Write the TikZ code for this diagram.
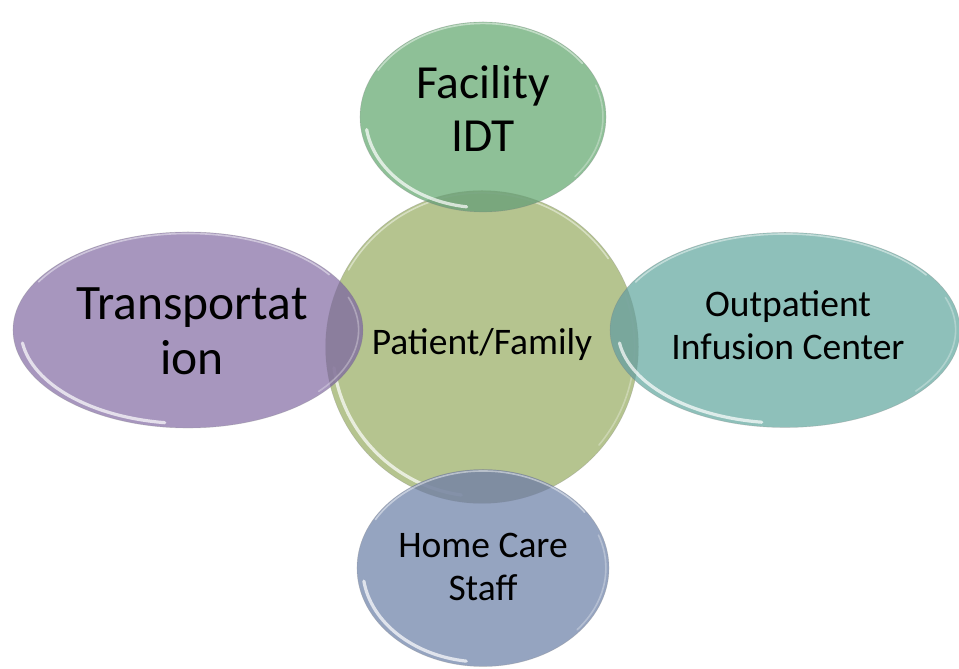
\documentclass[tikz,border=0pt]{standalone}
\usepackage{fontspec}
\setmainfont{Carlito}
\usetikzlibrary{shapes.geometric,calc}

\definecolor{hubgreen}{RGB}{181,196,143}
\definecolor{facgreen}{RGB}{130,185,140}
\definecolor{transpurple}{RGB}{157,139,183}
\definecolor{outteal}{RGB}{130,185,178}
\definecolor{homeblue}{RGB}{138,154,185}

\tikzset{
  bubble/.style={ellipse, inner sep=0pt, fill opacity=0.9,
    draw=black!45, draw opacity=0.35, line width=0.6pt},
  hub/.style={circle, inner sep=0pt,
    draw=black!45, draw opacity=0.35, line width=0.6pt},
  label/.style={align=center, text=black, inner sep=0pt},
  bigtext/.style={font=\fontsize{47.5}{53}\selectfont},
  hugetext/.style={font=\fontsize{49.5}{55}\selectfont},
  smalltext/.style={font=\fontsize{37.5}{43}\selectfont},
  glosslow/.style={white, opacity=0.7, line width=3.2pt, line cap=round},
  glosstop/.style={white, opacity=0.45, line width=1.6pt, line cap=round},
}

% glossy rim highlights for a bubble: node, x radius, y radius
\newcommand\shine[3]{%
  \draw[glosslow] ($(#1.center)+(188:{0.955*#2} and {0.955*#3})$)
    arc[start angle=188, end angle=262, x radius={0.955*#2}, y radius={0.955*#3}];
  \draw[glosstop] ($(#1.center)+(35:{0.985*#2} and {0.985*#3})$)
    arc[start angle=35, end angle=150, x radius={0.985*#2}, y radius={0.985*#3}];
  \draw[glosstop, opacity=0.3] ($(#1.center)+(-40:{0.975*#2} and {0.975*#3})$)
    arc[start angle=-40, end angle=20, x radius={0.975*#2}, y radius={0.975*#3}];
}

\begin{document}
\begin{tikzpicture}[x=1pt, y=1pt]
  \useasboundingbox (0,0) rectangle (959,669);

  % central circle
  \node[hub, fill=hubgreen, minimum size=313pt] (hubc) at (482,322) {};
  \shine{hubc}{156.5pt}{156.5pt}

  % surrounding bubbles, slightly see-through over the centre
  \node[bubble, fill=facgreen, minimum width=246pt, minimum height=190pt] (fac) at (483,552) {};
  \node[bubble, fill=transpurple, minimum width=350pt, minimum height=196pt] (trans) at (188,339) {};
  \node[bubble, fill=outteal, minimum width=350pt, minimum height=195pt] (outp) at (785,339) {};
  \node[bubble, fill=homeblue, minimum width=252pt, minimum height=197pt] (home) at (483,101) {};

  % darker tint where bubbles overlap the centre
  \begin{scope}
    \clip (hubc.center) circle[radius=156.5pt];
    \fill[black, opacity=0.1] (fac.center) ellipse[x radius=123pt, y radius=95pt];
    \fill[black, opacity=0.12] (trans.center) ellipse[x radius=175pt, y radius=98pt];
    \fill[black, opacity=0.1] (outp.center) ellipse[x radius=175pt, y radius=97.5pt];
    \fill[black, opacity=0.1] (home.center) ellipse[x radius=126pt, y radius=98.5pt];
  \end{scope}

  \shine{fac}{123pt}{95pt}
  \shine{trans}{175pt}{98pt}
  \shine{outp}{175pt}{97.5pt}
  \shine{home}{126pt}{98.5pt}

  % labels
  \node[label, smalltext] (hubl) at ($(hubc.center)+(0,2)$) {Patient/Family};
  \node[label, bigtext] (facl) at ($(fac.center)+(0,8)$) {Facility\\IDT};
  \node[label, hugetext] (transl) at ($(trans.center)+(4,-1)$) {Transportat\\ion};
  \node[label, smalltext] (outpl) at ($(outp.center)+(3,5)$) {Outpatient\\Infusion Center};
  \node[label, smalltext] (homel) at ($(home.center)+(0,1)$) {Home Care\\Staff};
\end{tikzpicture}
\end{document}
